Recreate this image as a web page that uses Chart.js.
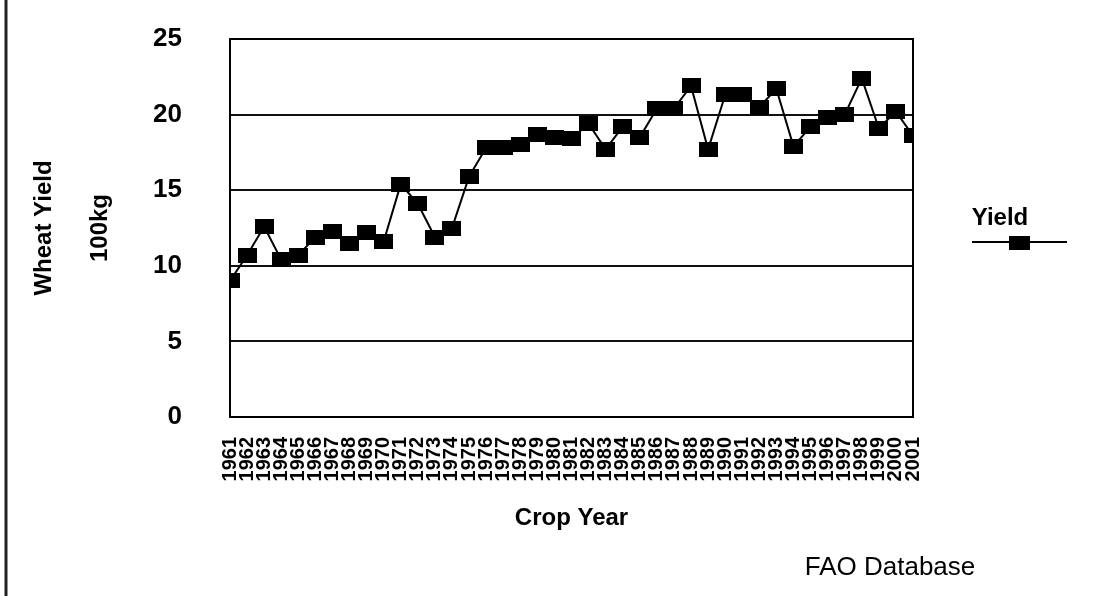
<!DOCTYPE html>
<html>
<head>
<meta charset="utf-8">
<script src="https://cdn.jsdelivr.net/npm/chart.js@4"></script>
<style>
  body { margin: 0; background: #fff; }
  #wrap { width: 1097px; height: 596px; }
</style>
</head>
<body>
<div id="wrap"><canvas id="yieldChart" width="1097" height="596"></canvas></div>
<script>
// Crop years and wheat yield (100kg)
const years = [
  "1961", "1962", "1963", "1964", "1965", "1966", "1967", "1968", "1969", "1970",
  "1971", "1972", "1973", "1974", "1975", "1976", "1977", "1978", "1979", "1980",
  "1981", "1982", "1983", "1984", "1985", "1986", "1987", "1988", "1989", "1990",
  "1991", "1992", "1993", "1994", "1995", "1996", "1997", "1998", "1999", "2000",
  "2001",
];
const yieldValues = [
  9.0, 10.7, 12.6, 10.4, 10.7, 11.9, 12.3, 11.5, 12.2, 11.6,
  15.4, 14.1, 11.9, 12.5, 15.9, 17.8, 17.8, 18.0, 18.7, 18.5,
  18.4, 19.4, 17.7, 19.2, 18.5, 20.4, 20.4, 21.9, 17.7, 21.3,
  21.3, 20.5, 21.7, 17.9, 19.2, 19.8, 20.0, 22.4, 19.1, 20.2,
  18.6,
];
const yTicks = [0, 5, 10, 15, 20, 25];
const seriesName = "Yield";

const FONT = "'Liberation Sans', Arial, sans-serif";
Chart.defaults.font.family = FONT;
Chart.defaults.color = "#000";

// rectangular marker like the Excel one
function makeMarker(w, h) {
  const c = document.createElement("canvas");
  c.width = w;
  c.height = h;
  const g = c.getContext("2d");
  g.fillStyle = "#000";
  g.fillRect(0, 0, w, h);
  return c;
}
const marker = makeMarker(19, 15);

// frame, plot border, legend and source note
const extras = {
  id: "extras",
  afterDraw(chart) {
    const ctx = chart.ctx;
    const area = chart.chartArea;
    ctx.save();
    ctx.strokeStyle = "#000";
    ctx.lineWidth = 2;
    ctx.strokeRect(area.left, area.top, area.right - area.left, area.bottom - area.top);

    // left edge of the outer frame
    ctx.strokeStyle = "#222";
    ctx.lineWidth = 3;
    ctx.beginPath();
    ctx.moveTo(6, 0);
    ctx.lineTo(6, 596);
    ctx.stroke();

    // legend: name over a line with a marker
    ctx.fillStyle = "#000";
    ctx.font = "bold 24px " + FONT;
    ctx.textAlign = "center";
    ctx.textBaseline = "alphabetic";
    ctx.fillText(chart.data.datasets[0].label, 1000, 225);
    ctx.lineWidth = 2;
    ctx.strokeStyle = "#000";
    ctx.beginPath();
    ctx.moveTo(972, 242);
    ctx.lineTo(1067, 242);
    ctx.stroke();
    ctx.fillRect(1009, 236, 21, 14);

    ctx.font = "26px " + FONT;
    ctx.textBaseline = "middle";
    ctx.fillText("FAO Database", 890, 568);
    ctx.restore();
  },
};

const ctx = document.getElementById("yieldChart").getContext("2d");

const yieldChart = new Chart(ctx, {
  type: "line",
  data: {
    labels: years,
    datasets: [
      {
        label: seriesName,
        data: yieldValues,
        borderColor: "#000",
        borderWidth: 2,
        pointStyle: marker,
        pointRadius: 9,
        tension: 0,
        clip: 0,
      },
    ],
  },
  options: {
    responsive: false,
    animation: false,
    layout: {
      padding: { left: 10, right: 184, top: 39, bottom: 63 },
    },
    plugins: {
      legend: { display: false },
      tooltip: { enabled: false },
    },
    scales: {
      x: {
        offset: false,
        grid: { display: false, drawTicks: false },
        border: { display: true, color: "#000", width: 2 },
        ticks: {
          autoSkip: false,
          maxRotation: 90,
          minRotation: 90,
          padding: 20,
          color: "#000",
          font: { size: 20, weight: "bold" },
        },
        title: {
          display: true,
          text: "Crop Year",
          color: "#000",
          padding: { top: 0, bottom: 0 },
          font: { size: 24, weight: "bold" },
        },
        afterFit: function (scale) {
          scale.height = 116;
        },
      },
      y: {
        min: 0,
        max: 25,
        afterBuildTicks: function (scale) {
          scale.ticks = yTicks.map((v) => ({ value: v }));
        },
        // invisible tick marks keep the labels away from the axis
        grid: {
          color: "#111",
          lineWidth: 2,
          drawTicks: true,
          tickLength: 48,
          tickColor: "rgba(0,0,0,0)",
        },
        border: { display: true, color: "#000", width: 2 },
        ticks: {
          padding: 0,
          color: "#000",
          font: { size: 26, weight: "bold" },
        },
        title: {
          display: true,
          text: ["Wheat Yield", "100kg"],
          color: "#000",
          padding: { top: 6, bottom: 0 },
          font: { size: 24, weight: "bold", lineHeight: 56 / 24 },
        },
        afterFit: function (scale) {
          scale.width = 220;
        },
      },
    },
  },
  plugins: [extras],
});
</script>
</body>
</html>
